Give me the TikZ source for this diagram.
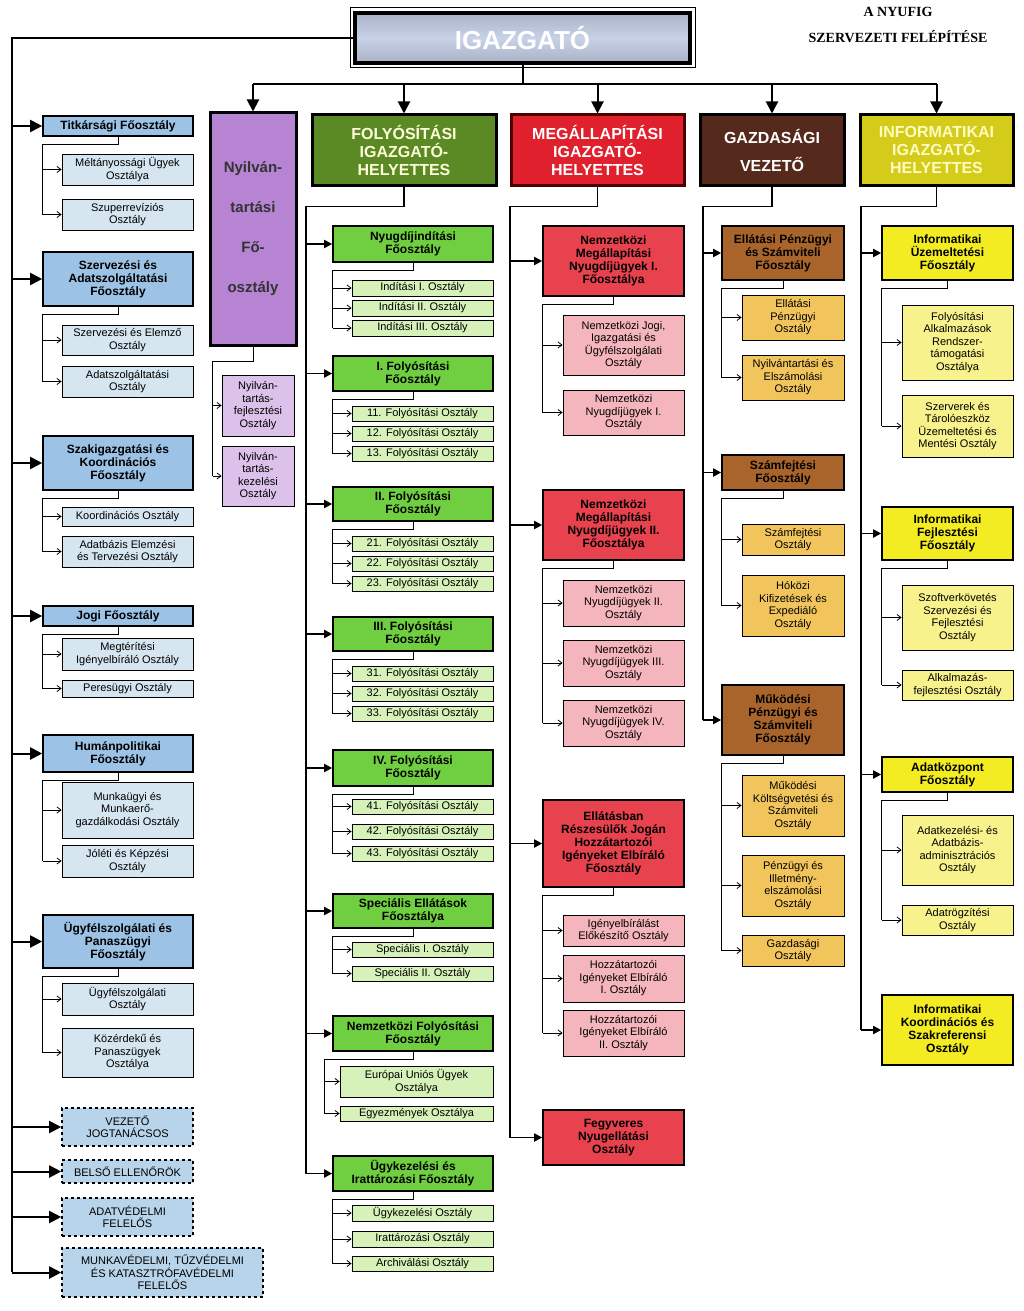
\documentclass[tikz,border=0pt]{standalone}
\usepackage{fontspec}
\setmainfont{Liberation Sans}
\newfontfamily\serifb{Liberation Serif}
\usetikzlibrary{arrows.meta}
\definecolor{bmain}{HTML}{9CC2E5}\definecolor{bsub}{HTML}{D6E6F0}\definecolor{bdash}{HTML}{B8D4EA}
\definecolor{pmain}{HTML}{B784D3}\definecolor{psub}{HTML}{DCC2EA}
\definecolor{ghead}{HTML}{5B8A25}\definecolor{gmain}{HTML}{70CF40}\definecolor{gsub}{HTML}{D6F2B8}
\definecolor{rhead}{HTML}{E0202C}\definecolor{rmain}{HTML}{E8424F}\definecolor{rsub}{HTML}{F5B5BD}
\definecolor{nhead}{HTML}{55291B}\definecolor{nmain}{HTML}{A8642A}\definecolor{nsub}{HTML}{F2C55C}
\definecolor{yhead}{HTML}{D4CB1A}\definecolor{ymain}{HTML}{F3EC23}\definecolor{ysub}{HTML}{F8F28C}
\definecolor{igfill}{HTML}{B4BED8}\definecolor{igmid}{HTML}{C8D2E6}
\newcommand\bx[7]{\node[#6, minimum width={(#4-#2)*1pt}, minimum height={(#5-#3)*1pt}] (#1) at ({(#2+#4)/2},{(#3+#5)/2}) {#7};}
\newcommand\grp[4]{\draw[subl] (#1.south) -- ++(0,8) -| ([xshift=-#2]#3.west);
  \foreach \s in {#4} {\draw[subl,-{Straight Barb[length=4,width=6]}] ([xshift=-#2]\s.west) -- (\s.west);}}
\newcommand\col[4]{\draw[midl] (#1.south) -- ++(0,20) -| ([xshift=-#2]#3.west);
  \foreach \s in {#4} {\draw[midl,-{Triangle[length=8,width=8]}] ([xshift=-#2]\s.west) -- (\s.west);}}
\begin{document}
\begin{tikzpicture}[x=1pt,y=-1pt,
 mainb/.style={draw, line width=1.6, font=\bfseries\fontsize{12}{13}\selectfont, align=center, inner sep=1},
 subb/.style={draw, line width=0.8, font=\fontsize{11}{12.5}\selectfont, align=center, inner sep=1},
 headb/.style={draw, line width=3, align=center, font=\bfseries\fontsize{16}{18}\selectfont, inner sep=1},
 dsh/.style={draw, dashed, line width=1.6, fill=bdash, font=\fontsize{11}{12.5}\selectfont, align=center, inner sep=1},
 subl/.style={line width=0.8},
 midl/.style={line width=1.8},
 bigl/.style={line width=2},
 bigarrow/.style={bigl,-{Triangle[length=12,width=12]}}]
\useasboundingbox (0,0) rectangle (1024,1311);
% title
\node[font=\serifb\bfseries\fontsize{14}{16}\selectfont] (t1) at (898,12) {A NYUFIG};
\node[font=\serifb\bfseries\fontsize{14}{16}\selectfont] (t2) at (898,37) {SZERVEZETI FELÉPÍTÉSE};
% director
\node[draw, line width=1, minimum width=345, minimum height=60, inner sep=0] (igo) at (522.5,38) {};
\node[draw, line width=3.5, minimum width=335, minimum height=50, top color=igfill!80!gray, bottom color=igfill!80!gray, middle color=igmid,
  font=\bfseries\fontsize{26}{28}\selectfont, text=white] (ig) at (522.5,38) {IGAZGATÓ};
% heads
\bx{nyil}{210}{113}{296}{345}{headb,fill=pmain,font=\bfseries\fontsize{15}{40}\selectfont,text=black!80}{Nyilván-\\tartási\\Fő-\\osztály}
\bx{fh}{312}{115}{496}{185}{headb,fill=ghead,text=yellow!15}{FOLYÓSÍTÁSI\\IGAZGATÓ-\\HELYETTES}
\bx{mh}{511}{115}{684}{185}{headb,draw=black!70!red,fill=rhead,text=white}{MEGÁLLAPÍTÁSI\\IGAZGATÓ-\\HELYETTES}
\bx{gh}{700}{115}{844}{185}{headb,fill=nhead,text=white!90,font=\bfseries\fontsize{16}{28}\selectfont}{GAZDASÁGI\\VEZETŐ}
\bx{ih}{860}{115}{1013}{185}{headb,fill=yhead,text=yellow!25}{INFORMATIKAI\\IGAZGATÓ-\\HELYETTES}
% top bus
\draw[bigl] (ig.south) -- ++(0,19) coordinate (bus);
\draw[bigl] (nyil.north |- bus) -- (ih.north |- bus);
\foreach \h in {nyil,fh,mh,gh,ih} {\draw[bigarrow] (\h.north |- bus) -- (\h.north);}
% left column
\bx{l1}{43}{116}{193}{136}{mainb,fill=bmain}{Titkársági Főosztály}
\bx{l1a}{62}{154}{193}{185}{subb,fill=bsub}{Méltányossági Ügyek\\Osztálya}
\bx{l1b}{62}{199}{193}{230}{subb,fill=bsub}{Szuperrevíziós\\Osztály}
\bx{l2}{43}{252}{193}{306}{mainb,fill=bmain}{Szervezési és\\Adatszolgáltatási\\Főosztály}
\bx{l2a}{62}{325}{193}{355}{subb,fill=bsub}{Szervezési és Elemző\\Osztály}
\bx{l2b}{62}{366}{193}{397}{subb,fill=bsub}{Adatszolgáltatási\\Osztály}
\bx{l3}{43}{436}{193}{490}{mainb,fill=bmain}{Szakigazgatási és\\Koordinációs\\Főosztály}
\bx{l3a}{62}{507}{193}{526}{subb,fill=bsub}{Koordinációs Osztály}
\bx{l3b}{62}{536}{193}{567}{subb,fill=bsub}{Adatbázis Elemzési\\és Tervezési Osztály}
\bx{l4}{43}{606}{193}{626}{mainb,fill=bmain}{Jogi Főosztály}
\bx{l4a}{62}{638}{193}{670}{subb,fill=bsub}{Megtérítési\\Igényelbíráló Osztály}
\bx{l4b}{62}{680}{193}{697}{subb,fill=bsub}{Peresügyi Osztály}
\bx{l5}{43}{735}{193}{772}{mainb,fill=bmain}{Humánpolitikai\\Főosztály}
\bx{l5a}{62}{782}{193}{838}{subb,fill=bsub}{Munkaügyi és\\Munkaerő-\\gazdálkodási Osztály}
\bx{l5b}{62}{845}{193}{877}{subb,fill=bsub}{Jóléti és Képzési\\Osztály}
\bx{l6}{43}{915}{193}{968}{mainb,fill=bmain}{Ügyfélszolgálati és\\Panaszügyi\\Főosztály}
\bx{l6a}{62}{983}{193}{1015}{subb,fill=bsub}{Ügyfélszolgálati\\Osztály}
\bx{l6b}{62}{1028}{193}{1077}{subb,fill=bsub}{Közérdekű és\\Panaszügyek\\Osztálya}
\bx{d1}{62}{1108}{193}{1146}{dsh}{VEZETŐ\\JOGTANÁCSOS}
\bx{d2}{62}{1160}{193}{1183}{dsh}{BELSŐ ELLENŐRÖK}
\bx{d3}{62}{1198}{193}{1236}{dsh}{ADATVÉDELMI\\FELELŐS}
\bx{d4}{62}{1248}{263}{1297}{dsh}{MUNKAVÉDELMI, TŰZVÉDELMI\\ÉS KATASZTRÓFAVÉDELMI\\FELELŐS}
\coordinate (lt) at (12,1272);
\draw[bigl] (ig.west) -| (lt);
\foreach \s in {l1,l2,l3,l4,l5,l6,d1,d2,d3,d4} {\draw[bigarrow] (lt |- \s.west) -- (\s.west);}
\grp{l1}{19}{l1b}{l1a,l1b}
\grp{l2}{19}{l2b}{l2a,l2b}
\grp{l3}{19}{l3b}{l3a,l3b}
\grp{l4}{19}{l4b}{l4a,l4b}
\grp{l5}{19}{l5b}{l5a,l5b}
\grp{l6}{19}{l6b}{l6a,l6b}
% nyilvantartasi subs
\bx{n1}{222}{375}{294}{436}{subb,fill=psub}{Nyilván-\\tartás-\\fejlesztési\\Osztály}
\bx{n2}{222}{446}{294}{506}{subb,fill=psub}{Nyilván-\\tartás-\\kezelési\\Osztály}
\draw[subl] (nyil.south) -- ++(0,15) -| ([xshift=-9]n2.west);
\foreach \s in {n1,n2} {\draw[subl,-{Straight Barb[length=4,width=6]}] ([xshift=-9]\s.west) -- (\s.west);}
% folyositasi
\bx{f1}{333}{226}{493}{262}{mainb,fill=gmain}{Nyugdíjindítási\\Főosztály}
\bx{f1a}{352}{280}{493}{296}{subb,fill=gsub}{Indítási I. Osztály}
\bx{f1b}{352}{300}{493}{316}{subb,fill=gsub}{Indítási II. Osztály}
\bx{f1c}{352}{320}{493}{336}{subb,fill=gsub}{Indítási III. Osztály}
\bx{f2}{333}{356}{493}{391}{mainb,fill=gmain}{I. Folyósítási\\Főosztály}
\bx{f2a}{352}{406}{493}{421}{subb,fill=gsub}{11. Folyósítási Osztály}
\bx{f2b}{352}{426}{493}{441}{subb,fill=gsub}{12. Folyósítási Osztály}
\bx{f2c}{352}{446}{493}{461}{subb,fill=gsub}{13. Folyósítási Osztály}
\bx{f3}{333}{487}{493}{521}{mainb,fill=gmain}{II. Folyósítási\\Főosztály}
\bx{f3a}{352}{536}{493}{551}{subb,fill=gsub}{21. Folyósítási Osztály}
\bx{f3b}{352}{556}{493}{571}{subb,fill=gsub}{22. Folyósítási Osztály}
\bx{f3c}{352}{576}{493}{591}{subb,fill=gsub}{23. Folyósítási Osztály}
\bx{f4}{333}{617}{493}{651}{mainb,fill=gmain}{III. Folyósítási\\Főosztály}
\bx{f4a}{352}{666}{493}{681}{subb,fill=gsub}{31. Folyósítási Osztály}
\bx{f4b}{352}{686}{493}{701}{subb,fill=gsub}{32. Folyósítási Osztály}
\bx{f4c}{352}{706}{493}{721}{subb,fill=gsub}{33. Folyósítási Osztály}
\bx{f5}{333}{750}{493}{786}{mainb,fill=gmain}{IV. Folyósítási\\Főosztály}
\bx{f5a}{352}{799}{493}{814}{subb,fill=gsub}{41. Folyósítási Osztály}
\bx{f5b}{352}{824}{493}{839}{subb,fill=gsub}{42. Folyósítási Osztály}
\bx{f5c}{352}{846}{493}{861}{subb,fill=gsub}{43. Folyósítási Osztály}
\bx{f6}{333}{894}{493}{928}{mainb,fill=gmain}{Speciális Ellátások\\Főosztálya}
\bx{f6a}{352}{942}{493}{957}{subb,fill=gsub}{Speciális I. Osztály}
\bx{f6b}{352}{966}{493}{981}{subb,fill=gsub}{Speciális II. Osztály}
\bx{f7}{333}{1016}{493}{1051}{mainb,fill=gmain}{Nemzetközi Folyósítási\\Főosztály}
\bx{f7a}{340}{1066}{493}{1097}{subb,fill=gsub}{Európai Uniós Ügyek\\Osztálya}
\bx{f7b}{340}{1106}{493}{1121}{subb,fill=gsub}{Egyezmények Osztálya}
\bx{f8}{333}{1156}{493}{1191}{mainb,fill=gmain}{Ügykezelési és\\Irattározási Főosztály}
\bx{f8a}{352}{1205}{493}{1221}{subb,fill=gsub}{Ügykezelési Osztály}
\bx{f8b}{352}{1231}{493}{1247}{subb,fill=gsub}{Irattározási Osztály}
\bx{f8c}{352}{1256}{493}{1271}{subb,fill=gsub}{Archiválási Osztály}
\col{fh}{26}{f8}{f1,f2,f3,f4,f5,f6,f7,f8}
\grp{f1}{19}{f1c}{f1a,f1b,f1c}
\grp{f2}{19}{f2c}{f2a,f2b,f2c}
\grp{f3}{19}{f3c}{f3a,f3b,f3c}
\grp{f4}{19}{f4c}{f4a,f4b,f4c}
\grp{f5}{19}{f5c}{f5a,f5b,f5c}
\grp{f6}{19}{f6b}{f6a,f6b}
\grp{f7}{15}{f7b}{f7a,f7b}
\grp{f8}{19}{f8c}{f8a,f8b,f8c}
% megallapitasi
\bx{m1}{543}{226}{684}{296}{mainb,fill=rmain}{Nemzetközi\\Megállapítási\\Nyugdíjügyek I.\\Főosztálya}
\bx{m1a}{563}{315}{684}{375}{subb,fill=rsub}{Nemzetközi Jogi,\\Igazgatási és\\Ügyfélszolgálati\\Osztály}
\bx{m1b}{563}{390}{684}{435}{subb,fill=rsub}{Nemzetközi\\Nyugdíjügyek I.\\Osztály}
\bx{m2}{543}{490}{684}{560}{mainb,fill=rmain}{Nemzetközi\\Megállapítási\\Nyugdíjügyek II.\\Főosztálya}
\bx{m2a}{563}{580}{684}{626}{subb,fill=rsub}{Nemzetközi\\Nyugdíjügyek II.\\Osztály}
\bx{m2b}{563}{640}{684}{686}{subb,fill=rsub}{Nemzetközi\\Nyugdíjügyek III.\\Osztály}
\bx{m2c}{563}{700}{684}{746}{subb,fill=rsub}{Nemzetközi\\Nyugdíjügyek IV.\\Osztály}
\bx{m3}{543}{800}{684}{887}{mainb,fill=rmain}{Ellátásban\\Részesülők Jogán\\Hozzátartozói\\Igényeket Elbíráló\\Főosztály}
\bx{m3a}{563}{915}{684}{946}{subb,fill=rsub}{Igényelbírálást\\Előkészítő Osztály}
\bx{m3b}{563}{955}{684}{1002}{subb,fill=rsub}{Hozzátartozói\\Igényeket Elbíráló\\I. Osztály}
\bx{m3c}{563}{1010}{684}{1056}{subb,fill=rsub}{Hozzátartozói\\Igényeket Elbíráló\\II. Osztály}
\bx{m4}{543}{1110}{684}{1165}{mainb,fill=rmain}{Fegyveres\\Nyugellátási\\Osztály}
\col{mh}{32}{m4}{m1,m2,m3,m4}
\grp{m1}{20}{m1b}{m1a,m1b}
\grp{m2}{20}{m2c}{m2a,m2b,m2c}
\grp{m3}{20}{m3c}{m3a,m3b,m3c}
% gazdasagi
\bx{g1}{722}{226}{844}{280}{mainb,fill=nmain}{Ellátási Pénzügyi\\és Számviteli\\Főosztály}
\bx{g1a}{742}{295}{844}{340}{subb,fill=nsub}{Ellátási\\Pénzügyi\\Osztály}
\bx{g1b}{742}{355}{844}{400}{subb,fill=nsub}{Nyilvántartási és\\Elszámolási\\Osztály}
\bx{g2}{722}{455}{844}{490}{mainb,fill=nmain}{Számfejtési\\Főosztály}
\bx{g2a}{742}{524}{844}{555}{subb,fill=nsub}{Számfejtési\\Osztály}
\bx{g2b}{742}{575}{844}{636}{subb,fill=nsub}{Hóközi\\Kifizetések és\\Expediáló\\Osztály}
\bx{g3}{722}{685}{844}{755}{mainb,fill=nmain}{Működési\\Pénzügyi és\\Számviteli\\Főosztály}
\bx{g3a}{742}{775}{844}{836}{subb,fill=nsub}{Működési\\Költségvetési és\\Számviteli\\Osztály}
\bx{g3b}{742}{855}{844}{916}{subb,fill=nsub}{Pénzügyi és\\Illetmény-\\elszámolási\\Osztály}
\bx{g3c}{742}{935}{844}{966}{subb,fill=nsub}{Gazdasági\\Osztály}
\col{gh}{18}{g3}{g1,g2,g3}
\grp{g1}{20}{g1b}{g1a,g1b}
\grp{g2}{20}{g2b}{g2a,g2b}
\grp{g3}{20}{g3c}{g3a,g3b,g3c}
% informatikai
\bx{i1}{882}{226}{1013}{280}{mainb,fill=ymain}{Informatikai\\Üzemeltetési\\Főosztály}
\bx{i1a}{902}{305}{1013}{380}{subb,fill=ysub}{Folyósítási\\Alkalmazások\\Rendszer-\\támogatási\\Osztálya}
\bx{i1b}{902}{395}{1013}{457}{subb,fill=ysub}{Szerverek és\\Tárolóeszköz\\Üzemeltetési és\\Mentési Osztály}
\bx{i2}{882}{507}{1013}{560}{mainb,fill=ymain}{Informatikai\\Fejlesztési\\Főosztály}
\bx{i2a}{902}{585}{1013}{650}{subb,fill=ysub}{Szoftverkövetés\\Szervezési és\\Fejlesztési\\Osztály}
\bx{i2b}{902}{670}{1013}{700}{subb,fill=ysub}{Alkalmazás-\\fejlesztési Osztály}
\bx{i3}{882}{757}{1013}{792}{mainb,fill=ymain}{Adatközpont\\Főosztály}
\bx{i3a}{902}{815}{1013}{885}{subb,fill=ysub}{Adatkezelési- és\\Adatbázis-\\adminisztrációs\\Osztály}
\bx{i3b}{902}{905}{1013}{935}{subb,fill=ysub}{Adatrögzítési\\Osztály}
\bx{i4}{882}{995}{1013}{1065}{mainb,fill=ymain}{Informatikai\\Koordinációs és\\Szakreferensi\\Osztály}
\col{ih}{20}{i4}{i1,i2,i3,i4}
\grp{i1}{20}{i1b}{i1a,i1b}
\grp{i2}{20}{i2b}{i2a,i2b}
\grp{i3}{20}{i3b}{i3a,i3b}
\end{tikzpicture}
\end{document}
